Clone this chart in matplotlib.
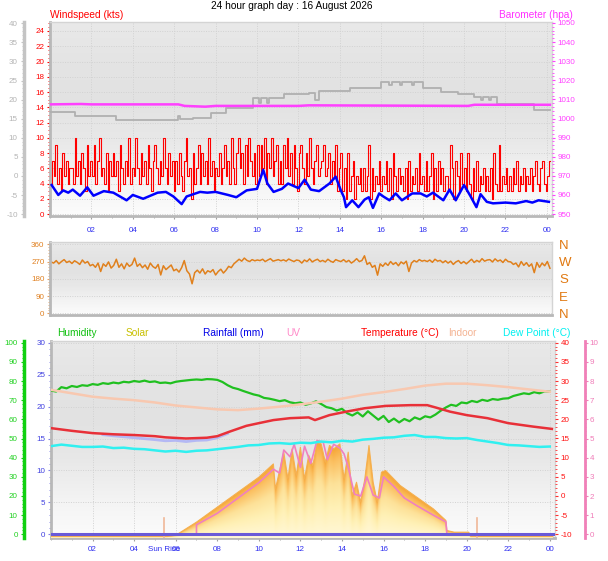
import numpy as np
import matplotlib
matplotlib.use('Agg')
import matplotlib.pyplot as plt
from matplotlib.ticker import MultipleLocator
from matplotlib.colors import LinearSegmentedColormap
from matplotlib.transforms import blended_transform_factory

TICK_FONT = ['Liberation Sans Narrow', 'Liberation Sans', 'DejaVu Sans']
TEXT_FONT = ['Liberation Sans', 'DejaVu Sans']
plt.rcParams['font.family'] = TICK_FONT
plt.rcParams['axes.unicode_minus'] = False

title = '24 hour graph day : 16 August 2026'
hour_ticks = [2, 4, 6, 8, 10, 12, 14, 16, 18, 20, 22, 24]
hour_labels = ['02', '04', '06', '08', '10', '12', '14', '16', '18', '20', '22', '00']

## windspeed (kts), one reading every 5 minutes
wind_gust = [
    4, 7, 5, 9, 4, 6, 3, 8, 5, 7, 4, 6,
    6, 4, 10, 5, 7, 4, 8, 6, 3, 9, 5, 7,
    5, 9, 4, 7, 10, 5, 6, 4, 8, 3, 7, 5,
    8, 5, 7, 3, 9, 6, 4, 7, 5, 10, 4, 6,
    5, 10, 6, 4, 8, 5, 7, 4, 9, 6, 3, 7,
    9, 6, 4, 7, 5, 10, 6, 4, 8, 5, 7, 3,
    7, 4, 8, 5, 3, 7, 10, 5, 6, 2, 8, 4,
    6, 9, 4, 8, 5, 7, 4, 10, 5, 7, 3, 6,
    5, 8, 4, 6, 9, 5, 7, 4, 10, 6, 4, 8,
    10, 6, 8, 4, 9, 5, 10, 7, 5, 8, 4, 9,
    5, 9, 6, 10, 4, 8, 6, 10, 5, 7, 9, 4,
    7, 4, 9, 6, 10, 5, 8, 4, 9, 6, 3, 8,
    9, 6, 4, 8, 5, 10, 6, 4, 7, 9, 5, 6,
    7, 9, 5, 6, 8, 4, 7, 5, 9, 3, 6, 8,
    3, 6, 2, 8, 3, 5, 7, 2, 5, 4, 6, 3,
    6, 3, 5, 9, 2, 6, 3, 5, 4, 7, 3, 5,
    4, 7, 3, 6, 2, 8, 5, 3, 6, 4, 5, 3,
    6, 2, 7, 3, 5, 4, 6, 3, 8, 4, 5, 3,
    7, 3, 5, 8, 2, 6, 3, 7, 4, 6, 3, 5,
    5, 3, 9, 6, 2, 7, 5, 3, 8, 4, 6, 3,
    8, 4, 2, 6, 3, 7, 3, 5, 4, 6, 3, 5,
    3, 6, 2, 8, 4, 3, 9, 3, 5, 4, 6, 3,
    5, 3, 6, 4, 7, 3, 5, 4, 6, 3, 5, 4,
    6, 3, 5, 7, 4, 3, 6, 7, 4, 3, 5, 7,
]
wind_avg_t = [0.08, 0.4, 0.64, 0.88, 1.1, 1.45, 1.8, 2.1, 2.6, 3.06, 3.7, 4.0, 4.5, 5.2, 5.6,
              5.96, 6.36, 6.6, 7.25, 7.6, 8.0, 8.6, 9.0, 9.5, 10.0, 10.3, 10.5, 10.8, 11.2, 11.5,
              12.0, 12.3, 12.6, 13.0, 13.5, 13.8, 14.05, 14.2, 14.3, 14.6, 14.9, 15.2, 15.4, 15.6,
              15.9, 16.1, 16.4, 16.7, 17.0, 17.5, 17.9, 18.2, 18.5, 19.0, 19.3, 19.6, 20.0, 20.3,
              20.6, 20.8, 21.1, 21.4, 22.0, 22.5, 23.0, 23.3, 23.6, 24.1]
wind_avg = [3.8, 2.5, 3.1, 2.8, 3.2, 2.4, 3.5, 2.4, 3.0, 2.8, 1.8, 2.5, 2.0, 2.8, 2.9,
            2.3, 1.3, 2.3, 2.9, 2.8, 2.9, 2.5, 2.2, 3.1, 3.3, 5.8, 4.0, 2.9, 3.3, 4.0,
            3.4, 4.5, 3.2, 3.0, 4.0, 4.9, 3.1, 2.2, 0.9, 1.8, 0.9, 1.9, 2.2, 0.8,
            2.7, 2.3, 1.8, 2.7, 1.8, 2.7, 2.7, 2.3, 2.8, 1.8, 3.2, 1.8, 3.8, 2.4,
            0.9, 2.6, 1.6, 1.4, 1.5, 1.4, 1.7, 1.5, 1.8, 1.6]

## barometer (hpa)
baro_t = [0, 1.5, 2.0, 6.2, 6.5, 7.5, 8.0, 12.0, 12.5, 20.2, 20.5, 24.15]
baro = [1007.4, 1007.6, 1007.4, 1007.4, 1006.6, 1006.2, 1006.6, 1006.6, 1006.9, 1006.6, 1007.2, 1007.2]

## grey trace (left grey scale)
grey_t = [0, 1.2, 3.2, 6.2, 6.3, 6.9, 7.8, 8.5, 9.8, 10.1, 10.2, 10.5, 10.6, 11.3, 12.5, 12.8,
          13.0, 14.5, 16.0, 16.4, 16.5, 16.9, 17.0, 17.5, 17.6, 18.0, 18.9, 19.7, 20.5, 20.8,
          20.9, 21.2, 21.3, 21.6, 23.4, 24.15]
grey_v = [16.8, 15.7, 14.7, 15.7, 14.9, 15.2, 16.5, 17.8, 20.3, 19.0, 20.3, 19.0, 20.3, 21.5, 21.8, 19.9,
          22.3, 23.0, 24.6, 23.9, 24.6, 23.9, 24.6, 23.9, 24.6, 23.1, 22.0, 21.5, 20.7, 19.9,
          20.7, 19.9, 20.7, 18.9, 17.3, 17.3]

## wind direction (degrees), one reading every 7.5 minutes
wind_dir = [
    268, 262, 275, 258, 270, 280, 265, 272,
    260, 274, 266, 255, 278, 262, 270, 248,
    255, 240, 262, 218, 258, 245, 268, 236,
    250, 282, 240, 258, 232, 262, 245, 255,
    288, 245, 258, 238, 252, 230, 262, 244,
    235, 255, 200, 248, 228, 240, 252, 222,
    230, 215, 238, 275, 222, 205, 154, 212,
    225, 210, 232, 205, 222, 215, 228, 200,
    218, 230, 210, 225, 245, 238, 258, 270,
    282, 272, 288, 276, 270, 280, 274, 278,
    275, 282, 270, 278, 285, 272, 276, 280,
    274, 279, 272, 283, 276, 270, 278, 275,
    262, 278, 270, 284, 268, 276, 282, 270,
    276, 268, 282, 272, 266, 280, 274, 270,
    280, 268, 276, 262, 272, 285, 270, 275,
    300, 255, 265, 240, 250, 199, 258, 245,
    262, 250, 270, 255, 265, 248, 268, 258,
    272, 218, 262, 275, 268, 280, 272, 276,
    270, 278, 266, 282, 272, 276, 264, 274,
    262, 272, 255, 268, 275, 260, 270, 258,
    270, 282, 265, 276, 268, 285, 272, 278,
    280, 268, 284, 272, 278, 265, 282, 270,
    268, 255, 262, 242, 270, 250, 264, 245,
    258, 212, 265, 240, 262, 248, 270, 235,
]

## humidity (%), every 15 minutes
humidity = [
    75.0, 74.5, 76.8, 76.2, 77.4, 76.9, 77.8, 77.5, 78.4, 78.0, 78.9, 78.5,
    79.2, 78.8, 79.6, 79.3, 80.0, 79.6, 80.2, 79.5, 79.8, 79.0, 79.2, 78.8,
    79.6, 80.0, 80.3, 80.6, 80.8, 80.6, 81.0, 80.9, 80.6, 79.5, 77.8, 76.5,
    75.8, 74.8, 73.9, 73.0, 72.4, 71.2, 70.8, 70.2, 69.5, 70.0, 68.9, 68.4,
    68.8, 67.6, 68.3, 69.4, 68.0, 66.4, 65.8, 64.6, 65.5, 63.2, 62.0, 63.6,
    61.5, 64.2, 62.0, 59.8, 61.8, 58.6, 60.4, 58.4, 60.2, 59.0, 61.0, 60.0,
    61.6, 61.0, 62.5, 64.5, 66.2, 67.6, 67.0, 68.8, 68.4, 69.6, 69.0, 70.2,
    69.6, 70.6, 70.2, 70.8, 71.0, 72.2, 72.9, 73.6, 73.2, 74.2, 73.6, 74.6,
    74.4,
]

## temperatures (C)
temp_t = [0, 1, 2, 3, 4, 5, 5.5, 6.5, 7.5, 8.0, 8.6, 9.4, 10.0, 10.7, 11.5, 12.4, 12.7, 13.4,
          14.2, 15.1, 16.1, 17.3, 18.1, 18.5, 19.2, 20, 21, 22, 23.2, 24.1]
temp = [17.7, 17.0, 16.4, 16.1, 15.9, 15.6, 15.3, 15.0, 15.2, 15.6, 16.8, 18.3, 19.0, 19.8, 20.3, 20.5, 19.8, 21.1,
        22.0, 22.9, 23.5, 23.7, 23.7, 23.1, 22.0, 21.1, 20.3, 19.0, 18.1, 17.5]
indoor = [27.7, 26.8, 25.9, 25.4, 25.0, 24.4, 23.6, 23.1, 22.6, 22.4, 22.8, 23.3, 23.9,
          24.6, 25.4, 26.4, 27.1, 27.9, 28.8, 29.3, 29.3, 28.9, 28.4, 27.8, 27.2]
dew = [13.0, 13.4, 13.1, 12.8, 12.8, 12.9, 12.5, 12.6, 12.3, 12.2, 11.9, 11.6, 11.8,
       11.5, 11.8, 11.9, 12.2, 12.5, 12.8, 13.2, 13.3, 13.7, 13.8, 13.6, 13.9, 13.8,
       14.2, 14.0, 14.4, 14.2, 14.7, 14.9, 15.2, 15.3, 15.7, 15.9, 15.4, 15.4, 15.1,
       15.0, 15.1, 14.6, 14.2, 13.8, 13.3, 13.2, 13.0, 12.8, 12.9]
chill_t = [2.5, 3, 4, 5, 5.5, 6, 6.5, 7, 7.5, 8, 8.5]
chill = [16.0, 15.7, 15.2, 14.7, 14.4, 14.5, 14.2, 14.5, 14.6, 15.2, 16.3]

## solar (W/m2), UV index, rainfall (mm)
solar_t = [0, 5.6, 6.0, 7.0, 8.0, 9.0, 10.0, 10.7, 10.8, 11.0, 11.2, 11.4, 11.6, 11.8, 12.0, 12.2,
           12.4, 12.6, 12.8, 13.0, 13.2, 13.4, 13.6, 13.9, 14.1, 14.3, 14.5, 14.7, 14.9, 15.1,
           15.3, 15.5, 15.7, 15.9, 16.1, 16.8, 17.6, 18.4, 19.0, 19.05, 19.4, 20.1, 20.2, 24.15]
solar = [0, 0, 10, 120, 245, 370, 495, 606, 397, 553, 704, 481, 731, 509, 745, 481,
         678, 593, 787, 773, 620, 760, 731, 773, 481, 704, 342, 453, 286, 481,
         760, 453, 286, 537, 551, 426, 328, 230, 134, 50, 36, 36, 0, 0]
uv_t = [7.0, 7.0, 8.0, 9.0, 10.0, 10.7, 11.0, 11.2, 11.5, 11.7, 12.0, 12.2, 12.5, 12.8, 13.1,
        13.3, 13.6, 13.9, 14.1, 14.3, 14.6, 14.9, 15.2, 15.5, 15.8, 16.0, 16.5, 17.0, 17.6,
        18.4, 19.0, 19.05]
uv = [0, 0.5, 1.1, 1.9, 2.7, 3.4, 3.2, 4.4, 4.05, 4.7, 3.5, 4.6, 3.7, 4.9, 4.8,
      3.9, 4.7, 4.5, 4.2, 3.5, 2.1, 2.0, 3.0, 2.05, 1.9, 3.0, 2.5, 1.9, 1.5,
      1.0, 0.65, 0]
rain_t = [0, 24.15]
rain = [0, 0]
sunrise, sunset = 5.43, 20.5

W, H = 608, 561
fig = plt.figure(figsize=(6.08, 5.61), dpi=100)
fig.patch.set_facecolor('white')


def box(x0, y0, x1, y1):
    return [x0 / W, 1 - y1 / H, (x1 - x0) / W, (y1 - y0) / H]


def label(x, y, s, color, ha='left', size=7.3):
    fig.text(x / W, 1 - y / H, s, color=color, ha=ha, va='center', fontsize=size, family=TEXT_FONT)


bg_cmap = LinearSegmentedColormap.from_list('bg', ['#fcfcfc', '#f3f3f3', '#e8e8e8', '#e2e2e2', '#e4e4e4', '#e9e9e9'])


def panel(ax):
    ax.imshow(np.linspace(0, 1, 256).reshape(-1, 1), extent=(0, 1, 0, 1), transform=ax.transAxes,
              origin='lower', cmap=bg_cmap, aspect='auto', zorder=-10)
    for s in ['top', 'right']:
        ax.spines[s].set_color('#d4d4d4')
        ax.spines[s].set_linewidth(1)
    for s in ['left', 'bottom']:
        ax.spines[s].set_color('#b8b8b8')
        ax.spines[s].set_linewidth(2)


def bare(ax):
    for s in ax.spines.values():
        s.set_visible(False)


def hours(ax, labels=True, pad=5):
    ax.set_xlim(0, 24.25)
    ax.set_xticks(hour_ticks)
    ax.xaxis.set_minor_locator(MultipleLocator(1))
    if labels:
        ax.set_xticklabels(hour_labels)
    else:
        ax.set_xticklabels([])
    ax.tick_params(axis='x', which='both', colors='#a0a0a0', labelcolor='#3030f0', labelsize=5.8,
                   length=2, pad=pad)
    ax.tick_params(axis='x', which='minor', length=1.2)


grid_kw = dict(color='#d2d2d2', linestyle=(0, (1, 1.5)), linewidth=0.7)

## ---------------- top panel: wind + barometer
ax_w = fig.add_axes(box(50, 22, 552, 216))
panel(ax_w)
wind_t = np.linspace(0.05, 24.15, len(wind_gust))
ax_w.plot(wind_t, wind_gust, color='#ff0000', lw=0.8, drawstyle='steps-mid', zorder=3)
ax_w.plot(wind_avg_t, wind_avg, color='#0000ff', lw=1.8, zorder=4)
hours(ax_w, pad=6)
ax_w.set_ylim(-0.26, 25.18)
ax_w.set_yticks(range(0, 25, 2))
ax_w.yaxis.set_minor_locator(MultipleLocator(0.5))
ax_w.tick_params(axis='y', which='both', colors='#ff0000', labelsize=5.8, length=2.5, pad=1.5)
ax_w.tick_params(axis='y', which='minor', length=1.2)
ax_w.grid(True, which='major', **grid_kw)

ax_g = ax_w.twinx()
bare(ax_g)
ax_g.plot(grey_t, grey_v, color='#b0b0b0', lw=1.3, drawstyle='steps-post')
ax_g.set_ylim(-10.5, 40.34)
ax_g.yaxis.set_ticks_position('left')
ax_g.spines['left'].set_visible(True)
ax_g.spines['left'].set_position(('axes', -26 / 502))
ax_g.spines['left'].set_color('#c4c4c4')
ax_g.spines['left'].set_linewidth(2.5)
ax_g.set_yticks(range(-10, 41, 5))
ax_g.yaxis.set_minor_locator(MultipleLocator(1))
ax_g.tick_params(axis='y', which='both', colors='#c4c4c4', labelcolor='#b4b4b4', labelsize=5.8,
                 length=2.5, pad=2)
ax_g.tick_params(axis='y', which='minor', length=1.2)

ax_p = ax_w.twinx()
bare(ax_p)
ax_p.plot(baro_t, baro, color='#ff40ff', lw=1.8)
ax_p.set_ylim(949, 1050.5)
ax_p.set_yticks(range(950, 1051, 10))
ax_p.yaxis.set_minor_locator(MultipleLocator(2))
ax_p.tick_params(axis='y', which='both', colors='#ff40ff', labelsize=5.8, length=2.5, pad=1.5)
ax_p.tick_params(axis='y', which='minor', length=1.2)

## ---------------- middle panel: wind direction
ax_d = fig.add_axes(box(50, 242, 552, 315))
panel(ax_d)
dir_t = np.linspace(0.05, 24.15, len(wind_dir))
ax_d.plot(dir_t, wind_dir, color='#e0801c', lw=1.1)
ax_d.set_xlim(0, 24.25)
ax_d.set_xticks([])
ax_d.set_ylim(-8.9, 372)
ax_d.set_yticks([0, 90, 180, 270, 360])
ax_d.yaxis.set_minor_locator(MultipleLocator(15))
ax_d.tick_params(axis='y', which='both', colors='#e8a060', labelcolor='#e08020', labelsize=5.8,
                 length=2.5, pad=1.5)
ax_d.tick_params(axis='y', which='minor', length=1.2)
ax_d.grid(True, axis='y', **grid_kw)

ax_dn = ax_d.twinx()
bare(ax_dn)
ax_dn.set_ylim(-8.9, 372)
ax_dn.set_yticks([0, 90, 180, 270, 360])
ax_dn.set_yticklabels(['N', 'E', 'S', 'W', 'N'], family=TEXT_FONT)
ax_dn.tick_params(axis='y', length=0, pad=5, labelsize=9.5, labelcolor='#e07810')

## ---------------- bottom panel
ax_r = fig.add_axes(box(51, 341, 555, 538))
panel(ax_r)
hours(ax_r, pad=3.5)
ax_r.set_ylim(-0.58, 30.27)
ax_r.set_yticks(range(0, 31, 5))
ax_r.yaxis.set_minor_locator(MultipleLocator(1))
ax_r.tick_params(axis='y', which='both', colors='#8080e8', labelcolor='#4040e0', labelsize=5.8,
                 length=2.5, pad=1.5)
ax_r.tick_params(axis='y', which='minor', length=1.2)
ax_r.grid(True, which='major', **grid_kw)

# solar: filled hill, orange along its top fading to pale yellow
ax_s = ax_r.twinx()
bare(ax_s)
ax_s.set_yticks([])
sol_lo, sol_hi = -12.5, 1632
hill = ax_s.fill_between(solar_t, solar, sol_lo, facecolor='none', edgecolor='none')
cols = np.linspace(0, 24.25, 600)
rows = np.linspace(sol_lo, 800, 300)
top = np.interp(cols, solar_t, solar)
frac = np.clip((rows[:, None] - sol_lo) / np.maximum(top[None, :] - sol_lo, 1), 0, 1)
sun_cmap = LinearSegmentedColormap.from_list(
    'sun', [(0, '#fff8d8'), (0.35, '#fff0b4'), (0.6, '#fde198'), (0.85, '#fbbf60'), (1, '#f6a434')])
img = ax_s.imshow(frac, extent=(0, 24.25, sol_lo, 800), origin='lower', cmap=sun_cmap,
                  aspect='auto', vmin=0, vmax=1, zorder=1, interpolation='bilinear')
img.set_clip_path(hill.get_paths()[0], transform=ax_s.transData)
ax_s.plot(solar_t, solar, color='#f5b050', lw=0.8, zorder=2)
ax_s.set_xlim(0, 24.25)
ax_s.set_ylim(sol_lo, sol_hi)
ax_s.axvline(sunrise, ymin=0, ymax=0.1, color='#f0b898', lw=1.2)
ax_s.axvline(sunset, ymin=0, ymax=0.1, color='#f0b898', lw=1.2)

ax_u = ax_r.twinx()
bare(ax_u)
ax_u.plot(uv_t, uv, color='#f080c0', lw=1.2)
ax_u.set_ylim(-0.19, 10.09)
ax_u.spines['right'].set_visible(True)
ax_u.spines['right'].set_position(('axes', 1 + 30 / 504))
ax_u.spines['right'].set_color('#f080b8')
ax_u.spines['right'].set_linewidth(2)
ax_u.set_yticks(range(0, 11))
ax_u.yaxis.set_minor_locator(MultipleLocator(0.2))
ax_u.tick_params(axis='y', which='both', colors='#f080b8', labelcolor='#f07cb8', labelsize=5.8,
                 length=2, pad=1.5)
ax_u.tick_params(axis='y', which='minor', length=1)

ax_h = ax_r.twinx()
bare(ax_h)
hum_t = np.linspace(0, 24, len(humidity))
ax_h.plot(hum_t, humidity, color='#20c020', lw=1.6)
ax_h.set_ylim(-1.93, 100.89)
ax_h.yaxis.set_ticks_position('left')
ax_h.spines['left'].set_visible(True)
ax_h.spines['left'].set_position(('axes', -27 / 504))
ax_h.spines['left'].set_color('#10d010')
ax_h.spines['left'].set_linewidth(2.5)
ax_h.set_yticks(range(0, 101, 10))
ax_h.yaxis.set_minor_locator(MultipleLocator(2))
ax_h.tick_params(axis='y', which='both', colors='#10d010', labelcolor='#20d020', labelsize=5.8,
                 length=2.5, pad=2)
ax_h.tick_params(axis='y', which='minor', length=1.2)

ax_t = ax_r.twinx()
bare(ax_t)
ax_t.plot(chill_t, chill, color='#b4b8f4', lw=2)
ax_t.plot(np.linspace(0, 24, len(indoor)), indoor, color='#f8c8b0', lw=1.8)
ax_t.plot(np.linspace(0, 24, len(dew)), dew, color='#30f0f0', lw=1.8)
ax_t.plot(temp_t, temp, color='#e83038', lw=1.8)
ax_t.set_ylim(-10.97, 40.44)
ax_t.set_yticks(range(-10, 41, 5))
ax_t.yaxis.set_minor_locator(MultipleLocator(1))
ax_t.tick_params(axis='y', which='both', colors='#ff3030', labelcolor='#ff1010', labelsize=5.8,
                 length=2.5, pad=1.5)
ax_t.tick_params(axis='y', which='minor', length=1.2)

ax_rn = ax_r.twinx()
bare(ax_rn)
ax_rn.set_yticks([])
ax_rn.plot(rain_t, rain, color='#6a5ad8', lw=2.2)
ax_rn.set_ylim(-0.58, 30.27)
ax_rn.set_xlim(0, 24.25)

ax_r.text(sunrise, -0.056, 'Sun Rise', color='#3030f0', fontsize=5.8, ha='center', va='center',
          transform=blended_transform_factory(ax_r.transData, ax_r.transAxes), family=TEXT_FONT)

## ---------------- texts
label(291.5, 6, title, '#000000', ha='center')
label(50, 15, 'Windspeed (kts)', '#ff0000')
label(573, 15, 'Barometer (hpa)', '#ff30ff', ha='right')
label(57, 333, 'Humidity', '#10c010')
label(126, 333, 'Solar', '#c8c000')
label(203, 333, 'Rainfall (mm)', '#0000e8')
label(286, 333, 'UV', '#ff88c8')
label(361, 333, 'Temperature (\u00b0C)', '#ff0000')
label(448, 333, 'Indoor', '#f4b494')
label(503, 333, 'Dew Point (\u00b0C)', '#00f0f0')

fig.savefig('out.png', dpi=100)
